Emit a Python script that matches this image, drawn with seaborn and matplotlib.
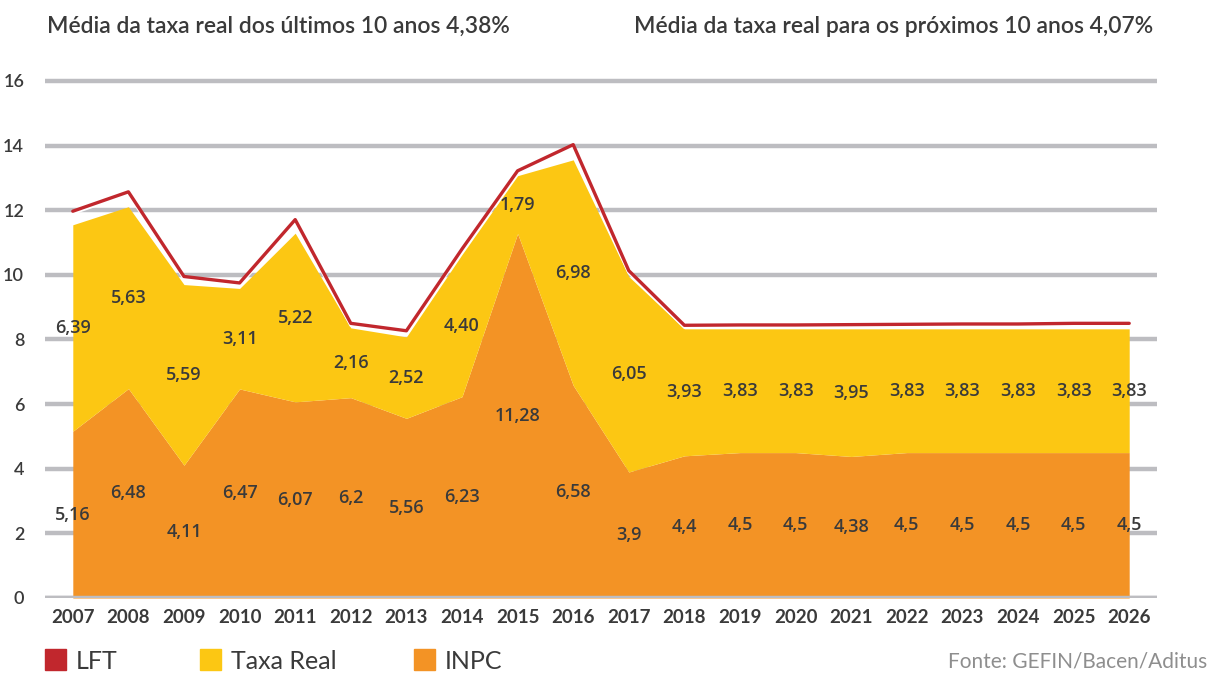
import matplotlib
matplotlib.use("Agg")
import matplotlib.pyplot as plt
import matplotlib.patheffects as pe
from matplotlib.ticker import FixedLocator
import numpy as np
import pandas as pd
import seaborn as sns

years = [str(y) for y in range(2007, 2027)]
inpc = [5.16, 6.48, 4.11, 6.47, 6.07, 6.2, 5.56, 6.23, 11.28, 6.58,
        3.9, 4.4, 4.5, 4.5, 4.38, 4.5, 4.5, 4.5, 4.5, 4.5]
taxa_real = [6.39, 5.63, 5.59, 3.11, 5.22, 2.16, 2.52, 4.40, 1.79, 6.98,
             6.05, 3.93, 3.83, 3.83, 3.95, 3.83, 3.83, 3.83, 3.83, 3.83]
lft = [11.97, 12.57, 9.95, 9.75, 11.71, 8.5, 8.27, 10.8, 13.22, 14.03,
       10.13, 8.44, 8.45, 8.45, 8.46, 8.47, 8.48, 8.48, 8.5, 8.5]
y_ticks = [0, 2, 4, 6, 8, 10, 12, 14, 16]

title_left = "Média da taxa real dos últimos 10 anos 4,38%"
title_right = "Média da taxa real para os próximos 10 anos 4,07%"
source = "Fonte: GEFIN/Bacen/Aditus"

C_LFT = "#C1272D"
C_TAXA = "#FCC713"
C_INPC = "#F39325"
C_GRID = "#BDBDC1"
C_TEXT = "#3A3A3A"

sns.set_theme(style="white")
plt.rcParams["font.family"] = ["Lato", "DejaVu Sans"]

df = pd.DataFrame({"x": np.arange(len(years)), "ano": years,
                   "INPC": inpc, "Taxa Real": taxa_real, "LFT": lft})

W, H = 1215, 674
fig = plt.figure(figsize=(W / 100, H / 100), dpi=100)
ax = fig.add_axes([45 / W, 1 - 598 / H, (1157 - 45) / W, (598 - 71.3) / H])

# horizontal grid drawn beneath the areas
for t in y_ticks:
    ax.axhline(t, color=C_GRID, lw=3.2, zorder=0, solid_capstyle="butt")

ax.stackplot(df["x"], df["INPC"], df["Taxa Real"],
             colors=[C_INPC, C_TAXA], linewidth=0, zorder=2)

sns.lineplot(data=df, x="x", y="LFT", ax=ax, color=C_LFT, lw=2.4, zorder=4,
             legend=False,
             path_effects=[pe.Stroke(linewidth=2.0, foreground="white", offset=(0, -1.6)),
                           pe.Normal()])

# value labels centred within each band
label_font = dict(fontsize=13, color=C_TEXT, family=["Open Sans", "DejaVu Sans"],
                  fontweight="semibold", ha="center", va="center", zorder=5)
for i in range(len(years)):
    a, b = inpc[i], taxa_real[i]
    ax.text(i, a / 2, f"{a:g}".replace(".", ","), **label_font)
    ax.text(i, a + b / 2, f"{b:.2f}".replace(".", ","), **label_font)

ax.set_xlim(-0.5, len(years) - 0.5)
ax.set_ylim(0, 16.3)
ax.set_xlabel("")
ax.set_ylabel("")
for s in ax.spines.values():
    s.set_visible(False)

ax.set_xticks(df["x"])
ax.set_xticklabels(years, fontsize=13.5, color=C_TEXT, fontweight="bold")
ax.xaxis.set_minor_locator(FixedLocator(np.arange(-0.5, len(years), 1.0)))
ax.tick_params(axis="x", which="major", length=0, pad=8)
ax.tick_params(axis="x", which="minor", length=8, width=1.6, color=C_GRID, direction="out")
ax.axhline(0, color=C_GRID, lw=3.2, zorder=3, solid_capstyle="butt")

ax.set_yticks(y_ticks)
ax.set_yticklabels([str(t) for t in y_ticks], fontsize=13, color=C_TEXT, fontweight="semibold")
ax.tick_params(axis="y", length=0, pad=15)

fig.text(47 / W, 1 - 33 / H, title_left, fontsize=16.5, color=C_TEXT,
         ha="left", va="baseline", fontweight="semibold")
fig.text(1153 / W, 1 - 33 / H, title_right, fontsize=16.5, color=C_TEXT,
         ha="right", va="baseline", fontweight="semibold")

# legend row
legend_items = [("LFT", C_LFT, 45), ("Taxa Real", C_TAXA, 200), ("INPC", C_INPC, 414)]
for label, color, x0 in legend_items:
    fig.patches.append(plt.Rectangle((x0 / W, 1 - 670 / H), 21 / W, 21 / H,
                                     transform=fig.transFigure, color=color))
    fig.text((x0 + 31) / W, 1 - 669 / H, label, fontsize=18, color=C_TEXT,
             ha="left", va="baseline", fontweight="normal")

fig.text(1207 / W, 1 - 668 / H, source, fontsize=15, color="#8E8E8E",
         ha="right", va="baseline", fontweight="normal")

fig.savefig("out.png", dpi=100)
